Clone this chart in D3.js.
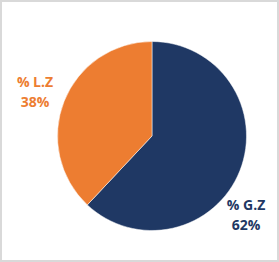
<!DOCTYPE html>
<html>
<head>
<meta charset="utf-8">
<script src="https://cdn.jsdelivr.net/npm/d3@7"></script>
<style>
  body { margin: 0; background: #fff; }
  #chart { width: 279px; height: 262px; }
  .lbl { font-family: "Open Sans", sans-serif; font-weight: bold; font-size: 14px; }
</style>
</head>
<body>
<div id="chart"></div>
<script>
var labels = ["% G.Z", "% L.Z"];
var values = [62, 38];
var colors = ["#1f3864", "#ed7d31"];

var width = 279, height = 262;
var cx = 152, cy = 136, radius = 94.5;

var svg = d3.select("#chart")
  .append("svg")
  .attr("width", width)
  .attr("height", height);

// frame
svg.append("rect")
  .attr("x", 1).attr("y", 1)
  .attr("width", width - 2).attr("height", height - 2)
  .attr("fill", "#fff")
  .attr("stroke", "#d9d9d9")
  .attr("stroke-width", 2);

var pie = d3.pie().sort(null).value(function(d) { return d; });
var arc = d3.arc().innerRadius(0).outerRadius(radius);
var arcs = pie(values);

var g = svg.append("g").attr("transform", `translate(${cx},${cy})`);

g.selectAll("path")
  .data(arcs)
  .enter()
  .append("path")
  .attr("d", arc)
  .attr("fill", function(d, i) { return colors[i]; })
  .attr("stroke", "#fff")
  .attr("stroke-width", 0.5);

// labels outside the pie ("best fit" spots, relative to the centre)
var labelPos = [[94, 69], [-117, -54]];

arcs.forEach(function(d, i) {
  var lx = labelPos[i][0], ly = labelPos[i][1];
  var t = g.append("text")
    .attr("class", "lbl")
    .attr("fill", colors[i])
    .attr("text-anchor", "middle")
    .attr("x", lx)
    .attr("y", ly);
  t.append("tspan").attr("x", lx).attr("dy", 5).text(labels[i]);
  t.append("tspan").attr("x", lx).attr("dy", 20).text(d3.format(".0%")(d.value / 100));
});
</script>
</body>
</html>
